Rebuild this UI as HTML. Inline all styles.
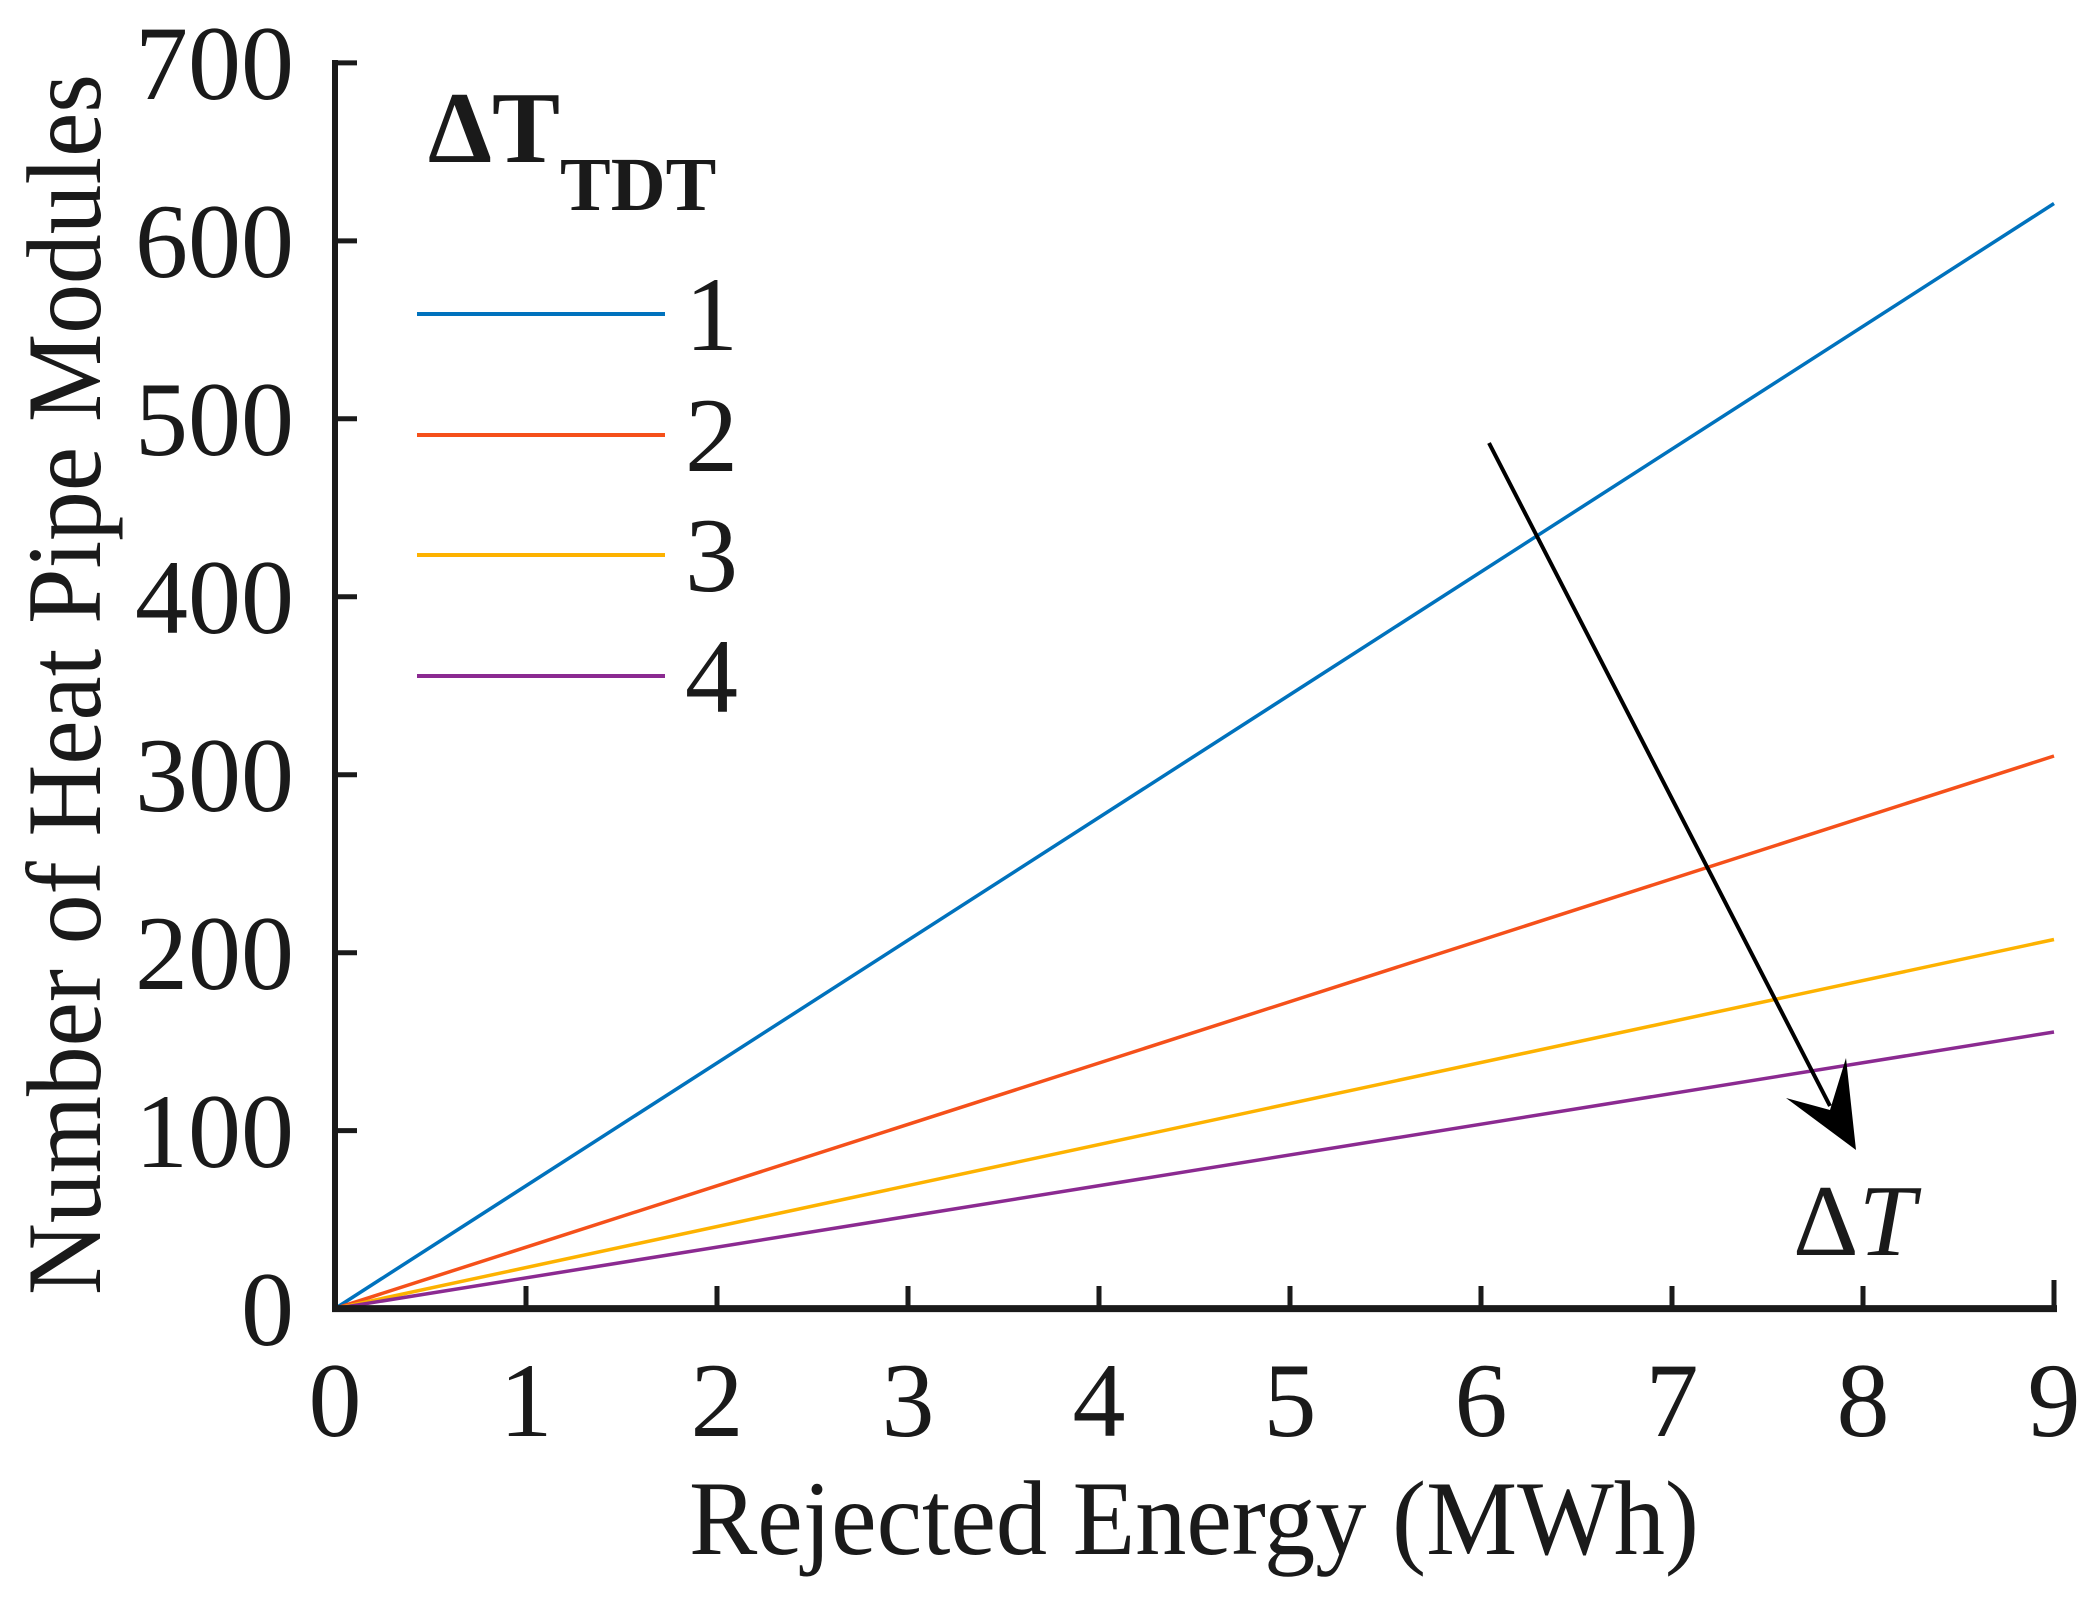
<!DOCTYPE html>
<html><head><meta charset="utf-8"><style>
html,body{margin:0;padding:0;background:#fff;}
svg{display:block;}
text{font-family:"Liberation Serif","Times New Roman",serif;fill:#1a1a1a;}
</style></head><body>
<svg width="2098" height="1603" viewBox="0 0 2098 1603" xmlns="http://www.w3.org/2000/svg">
<rect width="2098" height="1603" fill="#fff"/>
<g stroke-width="3.5" fill="none">
<line x1="335" y1="1308.6" x2="2054" y2="203.5" stroke="#0072BD"/>
<line x1="335" y1="1308.6" x2="2054" y2="756" stroke="#F5501A"/>
<line x1="335" y1="1308.6" x2="2054" y2="939.5" stroke="#FDB200"/>
<line x1="335" y1="1308.6" x2="2054" y2="1032" stroke="#8B2A91"/>
</g>
<g stroke="#1a1a1a" fill="none">
<line x1="335" y1="60" x2="335" y2="1311" stroke-width="6"/>
<line x1="332" y1="1308.6" x2="2057" y2="1308.6" stroke-width="7"/>
<g stroke-width="5">
<line x1="335" y1="62.9" x2="357" y2="62.9"/>
<line x1="335" y1="240.9" x2="357" y2="240.9"/>
<line x1="335" y1="418.8" x2="357" y2="418.8"/>
<line x1="335" y1="596.8" x2="357" y2="596.8"/>
<line x1="335" y1="774.7" x2="357" y2="774.7"/>
<line x1="335" y1="952.7" x2="357" y2="952.7"/>
<line x1="335" y1="1130.6" x2="357" y2="1130.6"/>
<line x1="526" y1="1308" x2="526" y2="1286"/>
<line x1="717" y1="1308" x2="717" y2="1286"/>
<line x1="908" y1="1308" x2="908" y2="1286"/>
<line x1="1099" y1="1308" x2="1099" y2="1286"/>
<line x1="1290" y1="1308" x2="1290" y2="1286"/>
<line x1="1481" y1="1308" x2="1481" y2="1286"/>
<line x1="1672" y1="1308" x2="1672" y2="1286"/>
<line x1="1863" y1="1308" x2="1863" y2="1286"/>
<line x1="2054" y1="1308" x2="2054" y2="1280"/>
</g>
</g>
<g font-size="106" text-anchor="end">
<text x="294" y="99">700</text>
<text x="294" y="277">600</text>
<text x="294" y="455">500</text>
<text x="294" y="633">400</text>
<text x="294" y="811">300</text>
<text x="294" y="989">200</text>
<text x="294" y="1167">100</text>
<text x="294" y="1345">0</text>
</g>
<g font-size="106" text-anchor="middle">
<text x="335" y="1436">0</text>
<text x="526" y="1436">1</text>
<text x="717" y="1436">2</text>
<text x="908" y="1436">3</text>
<text x="1099" y="1436">4</text>
<text x="1290" y="1436">5</text>
<text x="1481" y="1436">6</text>
<text x="1672" y="1436">7</text>
<text x="1863" y="1436">8</text>
<text x="2054" y="1436">9</text>
</g>
<text x="689" y="1554" font-size="106" textLength="1010" lengthAdjust="spacingAndGlyphs">Rejected  Energy (MWh)</text>
<text transform="translate(100,1295) rotate(-90)" font-size="106" textLength="1221" lengthAdjust="spacingAndGlyphs">Number of Heat Pipe Modules</text>
<text x="428" y="162" font-size="102" font-weight="bold">ΔT</text>
<text x="560" y="210" font-size="76" font-weight="bold">TDT</text>
<g stroke-width="4">
<line x1="417" y1="314" x2="665" y2="314" stroke="#0072BD"/>
<line x1="417" y1="435" x2="665" y2="435" stroke="#F5501A"/>
<line x1="417" y1="555" x2="665" y2="555" stroke="#FDB200"/>
<line x1="417" y1="676" x2="665" y2="676" stroke="#8B2A91"/>
</g>
<g font-size="106">
<text x="685" y="350">1</text>
<text x="685" y="471">2</text>
<text x="685" y="591">3</text>
<text x="685" y="712">4</text>
</g>
<line x1="1489" y1="443" x2="1830" y2="1106" stroke="#000" stroke-width="4"/>
<polygon points="1856,1150 1786,1098 1830,1110 1846,1058" fill="#000"/>
<text x="1793" y="1255" font-size="102">Δ<tspan font-style="italic">T</tspan></text>
</svg>
</body></html>
